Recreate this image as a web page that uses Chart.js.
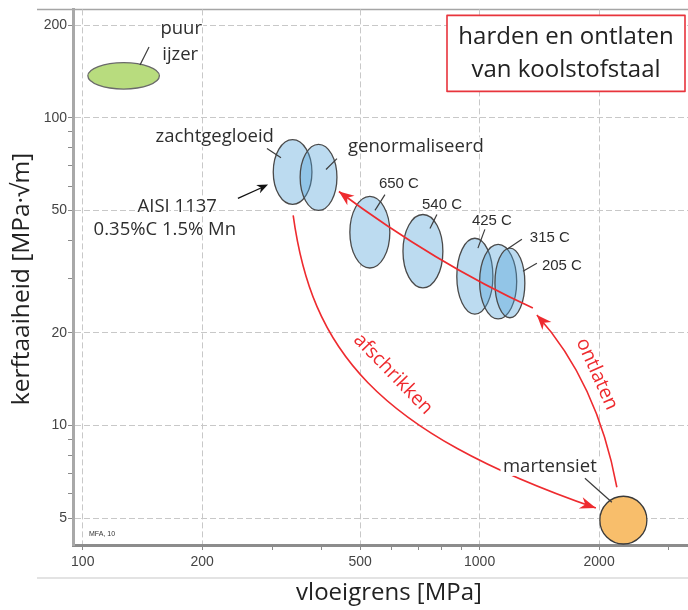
<!DOCTYPE html>
<html>
<head>
<meta charset="utf-8">
<script src="https://cdn.jsdelivr.net/npm/chart.js@4"></script>
<style>
  body { margin: 0; background: #fff; }
  #wrap { width: 688px; height: 610px; }
</style>
</head>
<body>
<div id="wrap"><canvas id="chart" width="688" height="610"></canvas></div>
<script>
// assen (log-log)
const X_MIN = 94.5, X_MAX = 3350;
const Y_MIN = 4.09, Y_MAX = 225;
const xTicks = [100, 200, 300, 400, 500, 600, 700, 800, 900, 1000, 2000, 3000];
const xLabels = [100, 200, 500, 1000, 2000];
const yTicks = [5, 6, 7, 8, 9, 10, 20, 30, 40, 50, 60, 70, 80, 90, 100, 200];
const yLabels = [5, 10, 20, 50, 100, 200];

// materialen: bereik vloeigrens (MPa) en kerftaaiheid (MPa·√m)
const materials = ['puur ijzer', 'zachtgegloeid', 'genormaliseerd', '650 C', '540 C', '425 C', '315 C', '205 C', 'martensiet'];
const yieldLow  = [103, 302, 353, 471, 641, 876, 1000, 1093, 2009];
const yieldHigh = [156, 378, 437, 594, 808, 1080, 1240, 1300, 2639];
const toughLow  = [124, 52.3, 50, 32.5, 28, 23, 22.2, 22.4, 4.12];
const toughHigh = [151, 84.9, 82, 55.5, 48.5, 40.6, 38.8, 37.7, 5.89];

// labels (positie in data-eenheden)
const labelTexts = ['puur', 'ijzer', 'zachtgegloeid', 'genormaliseerd', '650 C', '540 C', '425 C', '315 C', '205 C', 'AISI 1137', '0.35%C 1.5% Mn', 'martensiet'];
const labelX = [177, 176, 215, 691, 626, 804, 1074, 1503, 1612, 173, 161, 1503];
const labelY = [194, 160, 86.8, 80.6, 61.2, 52.3, 46.4, 40.6, 33.0, 51.5, 43.4, 7.37];

// verbindingslijntjes label -> ellips
const leaderX1 = [146.9, 291.2, 437, 577.4, 780.6, 1031, 1278, 1394, 1842];
const leaderY1 = [169.7, 79.4, 73.7, 56.3, 48.5, 43.4, 40.3, 33.7, 6.74];
const leaderX2 = [139.4, 315.9, 410.1, 544.9, 749.6, 990.2, 1172, 1286, 2154];
const leaderY2 = [148.4, 74.2, 67.9, 50.0, 43.7, 37.7, 37.4, 31.7, 5.63];

// rode pijlen (bezier-steunpunten in data-eenheden)
const quenchPath = [[339, 48.2], [377, 17.8], [540, 9.6], [1963, 5.39]];
const temperPath = [[2217, 6.3], [1980, 13.84], [1394, 22.87]];
const trendPath = [[1362, 24.09], [772, 33.7], [442, 57.6]];
const processTexts = ['afschrikken', 'ontlaten'];
const processX = [605, 1975];
const processY = [14.7, 14.7];
const processAngle = [46, 66];

const LABEL_FONT = '"Open Sans", "Noto Sans", sans-serif';
const TICK_FONT = '"Liberation Sans", Arial, sans-serif';
const RED = '#ee2b2f';

function arrowHead(ctx, tx, ty, fx, fy, len, half) {
  const a = Math.atan2(ty - fy, tx - fx);
  const c = Math.cos(a), s = Math.sin(a);
  ctx.beginPath();
  ctx.moveTo(tx, ty);
  ctx.lineTo(tx - len * c + half * s, ty - len * s - half * c);
  ctx.lineTo(tx - len * 0.7 * c, ty - len * 0.7 * s);
  ctx.lineTo(tx - len * c - half * s, ty - len * s + half * c);
  ctx.closePath();
  ctx.fill();
}

function haloText(ctx, text, x, y, w) {
  ctx.lineJoin = 'round';
  ctx.lineWidth = w;
  ctx.strokeStyle = '#fff';
  ctx.strokeText(text, x, y);
  ctx.fillText(text, x, y);
}

const sketch = {
  id: 'sketch',
  beforeDraw(chart) {
    const { ctx, chartArea: a } = chart;
    ctx.save();
    ctx.lineWidth = 1.5;
    ctx.strokeStyle = '#a5a5a5';
    ctx.beginPath(); ctx.moveTo(37, a.top); ctx.lineTo(a.right, a.top); ctx.stroke();
    ctx.strokeStyle = '#dadada';
    ctx.beginPath(); ctx.moveTo(37, 578); ctx.lineTo(a.right, 578); ctx.stroke();
    ctx.restore();
  },
  afterDatasetsDraw(chart) {
    const { ctx, chartArea: a, scales: { x, y } } = chart;
    const px = v => x.getPixelForValue(v);
    const py = v => y.getPixelForValue(v);
    const pt = p => [px(p[0]), py(p[1])];
    ctx.save();

    // ellipsen: eerst wit onderlaag, dan transparante kleur
    const shapes = materials.map((m, i) => {
      const x1 = px(yieldLow[i]), x2 = px(yieldHigh[i]);
      const y1 = py(toughLow[i]), y2 = py(toughHigh[i]);
      return { m, cx: (x1 + x2) / 2, cy: (y1 + y2) / 2, rx: Math.abs(x2 - x1) / 2, ry: Math.abs(y1 - y2) / 2 };
    });
    shapes.forEach(e => {
      ctx.beginPath(); ctx.ellipse(e.cx, e.cy, e.rx, e.ry, 0, 0, Math.PI * 2);
      ctx.fillStyle = '#fff'; ctx.fill();
    });
    shapes.forEach(e => {
      ctx.beginPath(); ctx.ellipse(e.cx, e.cy, e.rx, e.ry, 0, 0, Math.PI * 2);
      if (e.m === 'puur ijzer') { ctx.fillStyle = '#b8dc7e'; ctx.strokeStyle = '#6a6a6a'; }
      else if (e.m === 'martensiet') { ctx.fillStyle = '#f8be6b'; ctx.strokeStyle = '#3a3a3a'; }
      else { ctx.fillStyle = 'rgba(80,160,215,0.38)'; ctx.strokeStyle = '#4a4a4a'; }
      ctx.fill();
      ctx.lineWidth = 1.3; ctx.stroke();
    });

    // leader lines
    ctx.strokeStyle = '#3c3c3c'; ctx.lineWidth = 1.2;
    leaderX1.forEach((v, i) => {
      ctx.beginPath();
      ctx.moveTo(px(v), py(leaderY1[i]));
      ctx.lineTo(px(leaderX2[i]), py(leaderY2[i]));
      ctx.stroke();
    });

    // AISI pijltje
    const s0 = [px(246), py(54.7)], s1 = [px(293), py(60.7)];
    ctx.strokeStyle = '#111'; ctx.fillStyle = '#111'; ctx.lineWidth = 1.3;
    ctx.beginPath(); ctx.moveTo(s0[0], s0[1]); ctx.lineTo(s1[0] - 6, s1[1] + 3); ctx.stroke();
    arrowHead(ctx, s1[0], s1[1], s0[0], s0[1], 11, 4.5);

    // rode pijlen
    ctx.strokeStyle = RED; ctx.fillStyle = RED; ctx.lineWidth = 1.6;
    const q = quenchPath.map(pt);
    ctx.beginPath(); ctx.moveTo(q[0][0], q[0][1]);
    ctx.bezierCurveTo(q[1][0], q[1][1], q[2][0], q[2][1], q[3][0], q[3][1]);
    ctx.stroke();
    arrowHead(ctx, q[3][0], q[3][1], q[2][0], q[2][1], 16, 6);

    [temperPath, trendPath].forEach(path => {
      const p = path.map(pt);
      ctx.beginPath(); ctx.moveTo(p[0][0], p[0][1]);
      ctx.quadraticCurveTo(p[1][0], p[1][1], p[2][0], p[2][1]);
      ctx.stroke();
      arrowHead(ctx, p[2][0], p[2][1], p[1][0], p[1][1], 15, 6);
    });

    // labels
    ctx.textAlign = 'center'; ctx.textBaseline = 'middle';
    labelTexts.forEach((t, i) => {
      ctx.font = / C$/.test(t) ? '15px ' + TICK_FONT : '18.5px ' + LABEL_FONT;
      ctx.fillStyle = '#2e2e2e';
      haloText(ctx, t, px(labelX[i]), py(labelY[i]), t === 'martensiet' ? 8 : 3);
    });

    processTexts.forEach((t, i) => {
      ctx.save();
      ctx.translate(px(processX[i]), py(processY[i]));
      ctx.rotate(processAngle[i] * Math.PI / 180);
      ctx.font = '19.5px ' + LABEL_FONT;
      ctx.fillStyle = RED;
      haloText(ctx, t, 0, 0, 7);
      ctx.restore();
    });

    ctx.font = '7px ' + TICK_FONT; ctx.fillStyle = '#333'; ctx.textAlign = 'left';
    ctx.fillText('MFA, 10', px(103.7), py(4.44));

    // titelkader
    const bx = a.right - 241, by = a.top + 6, bw = 238, bh = 76;
    ctx.fillStyle = '#fff'; ctx.fillRect(bx, by, bw, bh);
    ctx.strokeStyle = '#e8343c'; ctx.lineWidth = 1.6; ctx.strokeRect(bx, by, bw, bh);
    ctx.fillStyle = '#222'; ctx.textAlign = 'center';
    ctx.font = '24px ' + LABEL_FONT;
    ctx.fillText('harden en ontlaten', bx + bw / 2, by + 22);
    ctx.fillText('van koolstofstaal', bx + bw / 2, by + 55);

    // astitels
    ctx.fillStyle = '#222';
    ctx.font = '24px ' + LABEL_FONT;
    ctx.fillText('vloeigrens [MPa]', 389, 593);
    ctx.save();
    ctx.translate(22, 279);
    ctx.rotate(-Math.PI / 2);
    ctx.font = '24.5px ' + LABEL_FONT;
    ctx.fillText('kerftaaiheid [MPa·√m]', 0, 0);
    ctx.restore();

    ctx.restore();
  }
};

const grayGrid = (list) => (c) => list.includes(c.tick.value) ? '#c8c8c8' : 'rgba(0,0,0,0)';

new Chart(document.getElementById('chart'), {
  type: 'scatter',
  data: { datasets: [] },
  options: {
    responsive: false,
    animation: false,
    layout: { padding: { top: 7, right: 0, bottom: 0, left: 0 } },
    plugins: { legend: { display: false }, tooltip: { enabled: false } },
    scales: {
      x: {
        type: 'logarithmic',
        min: X_MIN,
        max: X_MAX,
        afterBuildTicks: s => { s.ticks = xTicks.map(v => ({ value: v })); },
        afterFit: s => { s.height = 65; },
        ticks: {
          autoSkip: false, maxRotation: 0, padding: 4, color: '#444',
          font: { family: TICK_FONT, size: 14 },
          callback: v => xLabels.includes(v) ? String(v) : ''
        },
        grid: { color: grayGrid(xLabels), tickColor: '#8a8a8a', tickLength: 5, lineWidth: 1 },
        border: { color: '#8c8c8c', width: 3, dash: [6, 3] }
      },
      y: {
        type: 'logarithmic',
        min: Y_MIN,
        max: Y_MAX,
        afterBuildTicks: s => { s.ticks = yTicks.map(v => ({ value: v })); },
        afterFit: s => { s.width = 73; },
        ticks: {
          autoSkip: false, padding: 1, color: '#444',
          font: { family: TICK_FONT, size: 14 },
          callback: v => yLabels.includes(v) ? String(v) : ''
        },
        grid: { color: grayGrid(yLabels), tickColor: '#8a8a8a', tickLength: 5, lineWidth: 1 },
        border: { color: '#a8a8a8', width: 3, dash: [6, 3] }
      }
    }
  },
  plugins: [sketch]
});
</script>
</body>
</html>
